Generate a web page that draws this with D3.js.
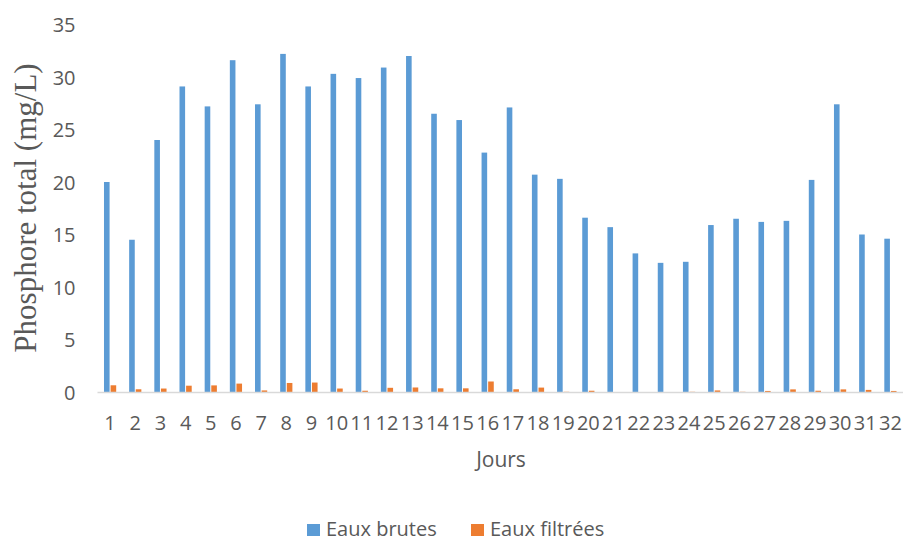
<!DOCTYPE html>
<html><head><meta charset="utf-8">
<script src="https://cdn.jsdelivr.net/npm/d3@7"></script>
<style>body{margin:0;background:#fff}svg{display:block}</style>
</head><body>
<svg id="c" width="905" height="542"></svg>
<script>
const days = d3.range(1, 33).map(String);
const brutes = [20.0,14.5,24.0,29.1,27.2,31.6,27.4,32.2,29.1,30.3,29.9,30.9,32.0,26.5,25.9,22.8,27.1,20.7,20.3,16.6,15.7,13.2,12.3,12.4,15.9,16.5,16.2,16.3,20.2,27.4,15.0,14.6];
const filtrees = [0.64,0.26,0.33,0.6,0.63,0.8,0.15,0.86,0.9,0.33,0.12,0.4,0.43,0.35,0.35,1.0,0.26,0.42,0.02,0.12,0,0,0,0.02,0.15,0.02,0.1,0.25,0.12,0.25,0.2,0.1];
const yTicks = [0,5,10,15,20,25,30,35];
const seriesNames = ["Eaux brutes","Eaux filtrées"];
const colors = ["#5B9BD5","#ED7D31"];

(function(){
const svg = d3.select("#c");
const font = "'Open Sans', 'Liberation Sans', Arial, sans-serif";
const txt = "#595959";
const mLeft = 97.5, mRight = 903, mTop = 24.5, mBottom = 392;
const x = d3.scaleBand().domain(days).range([mLeft, mRight]).paddingInner(0).paddingOuter(0);
const y = d3.scaleLinear().domain([0, 35]).range([mBottom, mTop]);
const bw = 5.6;

const g = svg.append("g");
days.forEach((d, i) => {
  const cx = x(d) + x.bandwidth() / 2;
  g.append("rect").attr("x", cx - bw - 0.5).attr("width", bw).attr("y", y(brutes[i])).attr("height", y(0) - y(brutes[i])).attr("fill", colors[0]);
  g.append("rect").attr("x", cx + 0.5).attr("width", bw).attr("y", y(filtrees[i])).attr("height", y(0) - y(filtrees[i])).attr("fill", colors[1]);
});

svg.append("line").attr("x1", mLeft).attr("x2", mRight).attr("y1", mBottom + 0.5).attr("y2", mBottom + 0.5).attr("stroke", "#D9D9D9").attr("stroke-width", 1.5);

const ya = svg.append("g").attr("transform", `translate(${mLeft - 22},0)`)
  .call(d3.axisLeft(y).tickValues(yTicks).tickSize(0).tickPadding(0));
ya.select(".domain").remove();
ya.selectAll("text").attr("font-family", font).attr("font-size", 20).attr("fill", txt).attr("dy", "0.36em");

const xa = svg.append("g").attr("transform", `translate(0,${mBottom})`)
  .call(d3.axisBottom(x).tickSize(0));
xa.select(".domain").remove();
xa.selectAll("text").attr("font-family", font).attr("font-size", 20).attr("fill", txt).attr("dy", null).attr("y", 38);

svg.append("text").attr("x", 501).attr("y", 467).attr("text-anchor", "middle")
  .attr("font-family", font).attr("font-size", 21).attr("fill", txt).text("Jours");

svg.append("text").attr("transform", "translate(36,208) rotate(-90)").attr("text-anchor", "middle")
  .attr("font-family", "'Liberation Serif', 'Times New Roman', serif").attr("font-size", 31).attr("fill", txt)
  .text("Phosphore total (mg/L)");

const legX = [307, 471];
seriesNames.forEach((n, i) => {
  svg.append("rect").attr("x", legX[i]).attr("y", 524).attr("width", 13).attr("height", 12).attr("fill", colors[i]);
  svg.append("text").attr("x", legX[i] + 19).attr("y", 536).attr("font-family", font).attr("font-size", 20).attr("fill", txt).text(n);
});
})();
</script>
</body></html>
